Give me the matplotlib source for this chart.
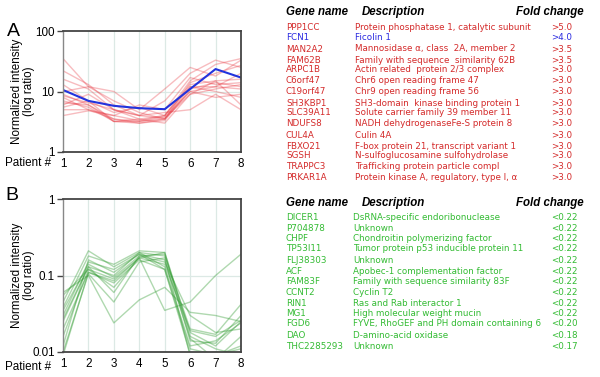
import matplotlib
matplotlib.use("Agg")
import matplotlib.pyplot as plt
import numpy as np

plt.rcParams['font.family'] = ['Liberation Sans', 'DejaVu Sans']

patients = [1, 2, 3, 4, 5, 6, 7, 8]

# panel A: up-regulated genes (red), FCN1 highlighted in blue
up_red = [
    [35, 12, 10, 5, 11, 25, 18, 33],
    [22, 13, 6, 4, 7, 20, 33, 25],
    [16, 11, 5, 3.5, 4, 15, 28, 35],
    [13, 7, 3.2, 3.2, 3.5, 10, 12, 20],
    [9, 6, 3.5, 3.0, 3.3, 11, 14, 12],
    [8, 5, 4, 3.3, 4, 12, 10, 8],
    [7, 5.5, 3.2, 3.5, 3, 9, 15, 6],
    [6, 9, 5, 4, 4.5, 5, 9, 5],
    [5.5, 7, 4.5, 5.5, 4, 13, 15, 16],
    [5, 5, 3.5, 3.2, 3.8, 10, 8, 9],
    [4, 4.8, 4, 6, 5, 17, 13, 14],
    [10, 12, 7, 4.5, 3.5, 14, 20, 27],
    [6.5, 6, 3.2, 3.0, 3.5, 12, 12, 11],
    [8.5, 6.5, 5, 4, 3.6, 9, 11, 13],
]
up_blue = [10.6, 7.0, 5.8, 5.3, 5.1, 11, 23.5, 17]

# panel B: down-regulated genes (green)
down_green = [
    [0.055, 0.12, 0.09, 0.17, 0.035, 0.045, 0.1, 0.19],
    [0.06, 0.1, 0.024, 0.048, 0.07, 0.033, 0.03, 0.025],
    [0.045, 0.21, 0.13, 0.2, 0.18, 0.02, 0.017, 0.042],
    [0.038, 0.18, 0.14, 0.21, 0.2, 0.018, 0.012, 0.025],
    [0.03, 0.15, 0.12, 0.19, 0.16, 0.015, 0.008, 0.016],
    [0.027, 0.13, 0.1, 0.2, 0.13, 0.012, 0.014, 0.024],
    [0.02, 0.11, 0.08, 0.16, 0.12, 0.0095, 0.009, 0.012],
    [0.016, 0.12, 0.07, 0.17, 0.2, 0.016, 0.011, 0.009],
    [0.01, 0.105, 0.045, 0.15, 0.17, 0.009, 0.01, 0.0095],
    [0.035, 0.14, 0.095, 0.18, 0.15, 0.03, 0.018, 0.02],
    [0.012, 0.16, 0.11, 0.19, 0.12, 0.011, 0.0092, 0.011],
    [0.025, 0.13, 0.06, 0.18, 0.19, 0.014, 0.013, 0.03],
    [0.009, 0.11, 0.085, 0.17, 0.14, 0.019, 0.016, 0.026],
]

genes_a = ["PPP1CC", "FCN1", "MAN2A2", "FAM62B", "ARPC1B", "C6orf47", "C19orf47",
           "SH3KBP1", "SLC39A11", "NDUFS8", "CUL4A", "FBXO21", "SGSH", "TRAPPC3", "PRKAR1A"]
desc_a = ["Protein phosphatase 1, catalytic subunit", "Ficolin 1",
          "Mannosidase α, class  2A, member 2", "Family with sequence  similarity 62B",
          "Actin related  protein 2/3 complex", "Chr6 open reading frame 47",
          "Chr9 open reading frame 56", "SH3-domain  kinase binding protein 1",
          "Solute carrier family 39 member 11", "NADH dehydrogenaseFe-S protein 8",
          "Culin 4A", "F-box protein 21, transcript variant 1",
          "N-sulfoglucosamine sulfohydrolase", "Trafficking protein particle compl",
          "Protein kinase A, regulatory, type I, α"]
fold_a = [">5.0", ">4.0", ">3.5", ">3.5", ">3.0", ">3.0", ">3.0", ">3.0", ">3.0",
          ">3.0", ">3.0", ">3.0", ">3.0", ">3.0", ">3.0"]
rows_a = [27.7, 37.7, 49, 60.3, 69.7, 80.3, 91.3, 103, 112.3, 123.7, 135.3, 146.7, 155.3, 166.7, 177.7]

genes_b = ["DICER1", "P704878", "CHPF", "TP53I11", "FLJ38303", "ACF", "FAM83F",
           "CCNT2", "RIN1", "MG1", "FGD6", "DAO", "THC2285293"]
desc_b = ["DsRNA-specific endoribonuclease", "Unknown", "Chondroitin polymerizing factor",
          "Tumor protein p53 inducible protein 11", "Unknown",
          "Apobec-1 complementation factor", "Family with sequence similarity 83F",
          "Cyclin T2", "Ras and Rab interactor 1", "High molecular weight mucin",
          "FYVE, RhoGEF and PH domain containing 6", "D-amino-acid oxidase", "Unknown"]
fold_b = ["<0.22"] * 10 + ["<0.20", "<0.18", "<0.17"]
rows_b = [218, 228.7, 238.5, 248.3, 260.3, 272, 282, 292.5, 303.5, 314, 323.5, 335.5, 346.5]

W, H = 600, 377
fig = plt.figure(figsize=(6, 3.77), dpi=100)

def px(x, y):
    return x / W, 1 - y / H

def style_axis(ax, ylim, yticks, ylabels, gridy):
    ax.set_yscale('log')
    ax.set_xlim(1, 8)
    ax.set_ylim(*ylim)
    ax.set_xticks(patients)
    ax.set_xticklabels([str(p) for p in patients], fontsize=8.4)
    ax.set_yticks(yticks)
    ax.set_yticklabels(ylabels, fontsize=8.4)
    ax.yaxis.set_minor_locator(matplotlib.ticker.NullLocator())
    ax.tick_params(axis='x', length=0, pad=4)
    ax.tick_params(axis='y', length=4, width=1, color='#444444', pad=2)
    for x in patients[1:-1]:
        ax.axvline(x, color='#dce9e5', lw=0.9, zorder=0)
    ax.axhline(gridy, color='#dce9e5', lw=0.9, zorder=0)
    for s in ax.spines.values():
        s.set_color('#444444')
        s.set_linewidth(1.3)
    ax.spines['left'].set_color('#888888')
    ax.spines['left'].set_linewidth(1.0)
    ax.set_ylabel("Normalized intensity\n(log ratio)", fontsize=8.4, linespacing=1.0)
    ax.yaxis.set_label_coords(-0.155, 0.5)

# panel A
l, t = px(63, 31)
r, b = px(241, 152)
axA = fig.add_axes([l, b, r - l, t - b])
for row in up_red:
    axA.plot(patients, row, color='#e8303a', alpha=0.32, lw=1.0)
axA.plot(patients, up_blue, color='#2233dd', lw=1.5)
style_axis(axA, (1, 100), [1, 10, 100], ["1", "10", "100"], 10)

# panel B
l, t = px(63, 199)
r, b = px(241, 352)
axB = fig.add_axes([l, b, r - l, t - b])
for row in down_green:
    axB.plot(patients, row, color='#2e9a2e', alpha=0.38, lw=1.0)
style_axis(axB, (0.01, 1), [0.01, 0.1, 1], ["0.01", "0.1", "1"], 0.1)

fig.text(*px(5, 163), "Patient #", fontsize=8.4, va='center')
fig.text(*px(5, 367), "Patient #", fontsize=8.4, va='center')
fig.text(*px(7, 32), "A", fontsize=14, va='center')
fig.text(*px(5, 195), "B", fontsize=14, va='center')

# tables
hdr = dict(fontsize=8.3, fontweight='bold', style='italic', va='center')
for y in (12.3, 202.7):
    fig.text(*px(286, y), "Gene name", **hdr)
    fig.text(*px(362, y), "Description", **hdr)
    fig.text(*px(516, y), "Fold change", **hdr)

# row text is wide but short in the original, DejaVu is closer than Arial here
row = dict(fontsize=6.3, family=['DejaVu Sans'], va='center')
red, blue, green = '#d42a2a', '#2a2ae0', '#33bb33'
for i, y in enumerate(rows_a):
    c = blue if genes_a[i] == "FCN1" else red
    fig.text(*px(286, y), genes_a[i], color=c, **row)
    fig.text(*px(355, y), desc_a[i], color=c, **row)
    fig.text(*px(551, y), fold_a[i], color=c, **row)

for i, y in enumerate(rows_b):
    fig.text(*px(286, y), genes_b[i], color=green, **row)
    fig.text(*px(353, y), desc_b[i], color=green, **row)
    fig.text(*px(551, y), fold_b[i], color=green, **row)

fig.savefig("out.png", dpi=100)
